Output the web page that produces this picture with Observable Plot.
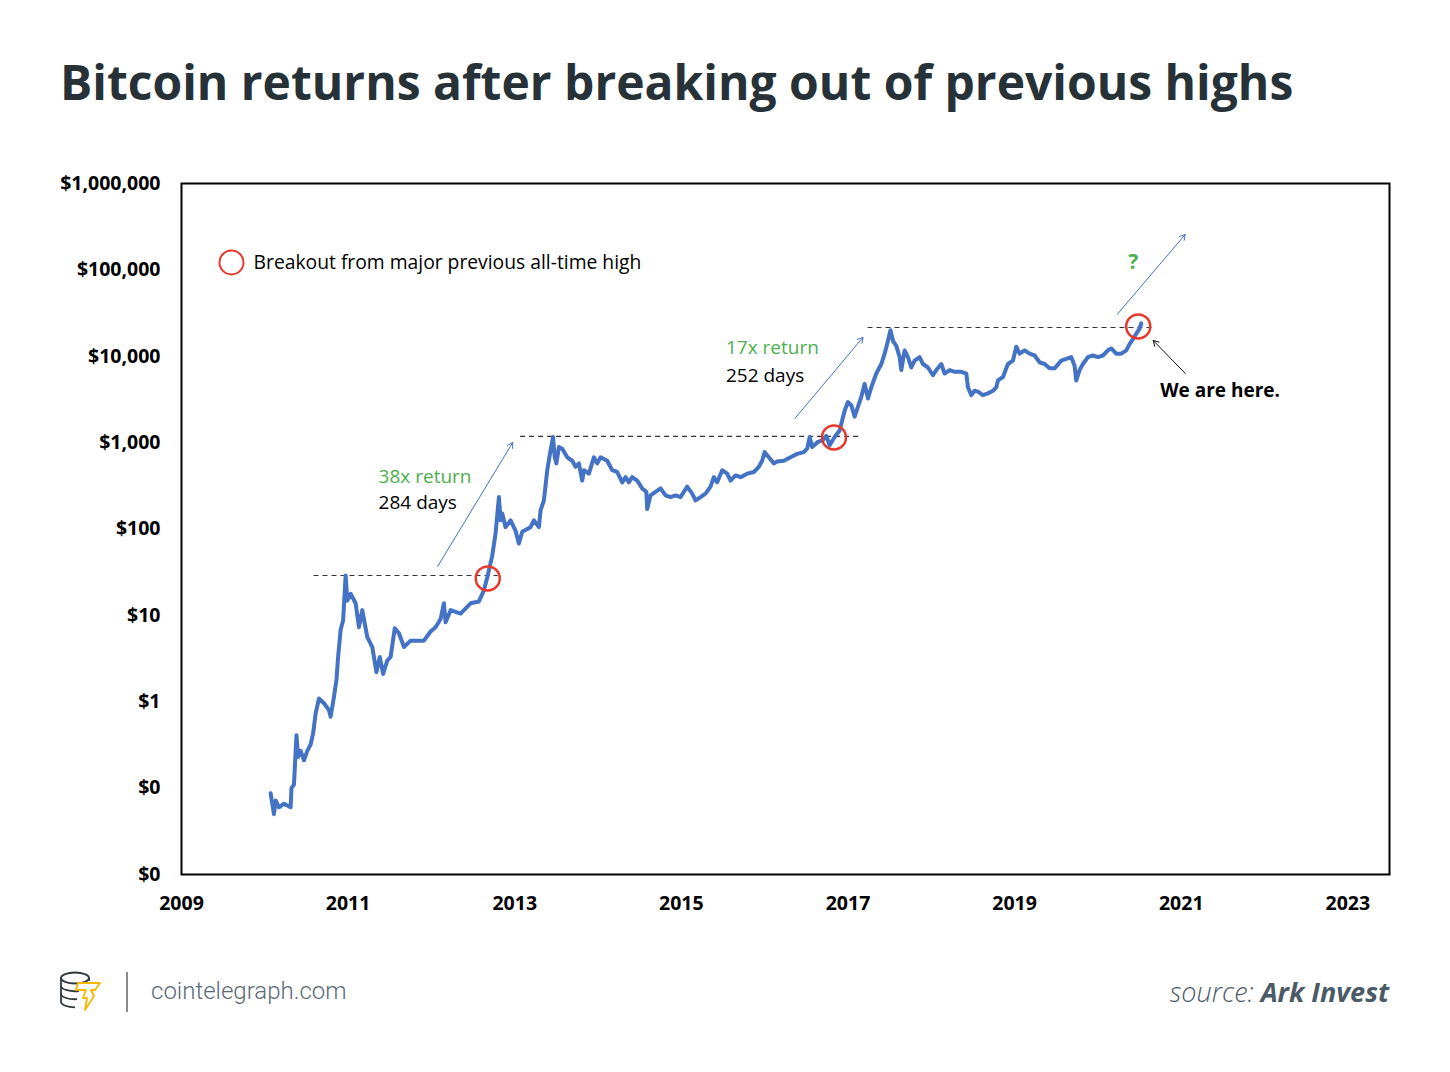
<!DOCTYPE html>
<html>
<head>
<meta charset="utf-8">
<script src="https://cdn.jsdelivr.net/npm/d3@7"></script>
<script src="https://cdn.jsdelivr.net/npm/@observablehq/plot@0.6"></script>
<style>
  html, body { margin: 0; padding: 0; background: #fff; }
  #page { position: relative; width: 1450px; height: 1072px; overflow: hidden; background: #fff; }
  #title { position: absolute; left: 60px; top: 58px; margin: 0; font-family: "Open Sans"; font-weight: 700; font-size: 48px; line-height: 48px; color: #263238; white-space: nowrap; }
  #chart { position: absolute; left: 0; top: 140px; }
  #logo { position: absolute; left: 58px; top: 970px; }
  #sep { position: absolute; left: 126px; top: 972px; width: 2px; height: 40px; background: #8a8a8a; }
  #site { position: absolute; left: 151px; top: 976px; font-family: Roboto; font-weight: 300; font-size: 24px; line-height: 30px; color: #5a6a76; }
  #source { position: absolute; right: 61px; top: 974px; font-family: "Open Sans"; font-style: italic; font-size: 27px; line-height: 36px; color: #4a5b67; }
  #source .l { font-weight: 300; }
  #source .b { font-weight: 700; }
</style>
</head>
<body>
<div id="page">
  <h1 id="title">Bitcoin returns after breaking out of previous highs</h1>
  <div id="chart"></div>
  <svg id="logo" width="50" height="44" viewBox="0 0 50 44">
    <g fill="none" stroke="#2f3a40" stroke-width="1.8">
      <ellipse cx="17" cy="8" rx="14" ry="5.5"/>
      <path d="M3 8 v8 a14 5.5 0 0 0 18 5"/>
      <path d="M3 16 v8 a14 5.5 0 0 0 16 5.2"/>
      <path d="M3 24 v8 a14 5.5 0 0 0 14 5.3"/>
      <path d="M31 8 v3"/>
    </g>
    <path d="M20 13 L42 13 L37 20 L33 20 L36 26 L27 40 L29 28 L25 28 L28 20 L18 20 Z" fill="#fff" stroke="#f5b700" stroke-width="1.8" stroke-linejoin="round"/>
  </svg>
  <div id="sep"></div>
  <div id="site">cointelegraph.com</div>
  <div id="source"><span class="l">source: </span><span class="b">Ark Invest</span></div>
</div>
<script>
// ---- Data ----
const years = [
  2010.07, 2010.11, 2010.13, 2010.17, 2010.23, 2010.31, 2010.32, 2010.35, 2010.38, 2010.40,
  2010.43, 2010.47, 2010.51, 2010.55, 2010.58, 2010.61, 2010.65, 2010.71, 2010.77, 2010.79,
  2010.83, 2010.86, 2010.88, 2010.91, 2010.94, 2010.97, 2010.99, 2011.03, 2011.09, 2011.13,
  2011.17, 2011.23, 2011.29, 2011.34, 2011.38, 2011.42, 2011.47, 2011.51, 2011.56, 2011.61,
  2011.67, 2011.75, 2011.91, 2011.99, 2012.05, 2012.11, 2012.15, 2012.17, 2012.23, 2012.35,
  2012.47, 2012.57, 2012.63, 2012.67, 2012.73, 2012.77, 2012.81, 2012.83, 2012.85, 2012.89,
  2012.95, 2013.01, 2013.05, 2013.09, 2013.19, 2013.23, 2013.29, 2013.31, 2013.35, 2013.39,
  2013.43, 2013.46, 2013.48, 2013.50, 2013.53, 2013.57, 2013.63, 2013.69, 2013.73, 2013.77,
  2013.81, 2013.83, 2013.89, 2013.95, 2013.99, 2014.03, 2014.11, 2014.17, 2014.23, 2014.29,
  2014.33, 2014.37, 2014.41, 2014.47, 2014.53, 2014.58, 2014.59, 2014.63, 2014.69, 2014.75,
  2014.81, 2014.87, 2014.93, 2014.99, 2015.07, 2015.13, 2015.17, 2015.23, 2015.29, 2015.35,
  2015.39, 2015.43, 2015.49, 2015.55, 2015.59, 2015.65, 2015.71, 2015.79, 2015.87, 2015.93,
  2015.97, 2016.00, 2016.05, 2016.11, 2016.15, 2016.23, 2016.31, 2016.39, 2016.47, 2016.51,
  2016.54, 2016.57, 2016.64, 2016.70, 2016.74, 2016.78, 2016.84, 2016.90, 2016.96, 2017.00,
  2017.04, 2017.08, 2017.16, 2017.20, 2017.24, 2017.28, 2017.34, 2017.40, 2017.44, 2017.48,
  2017.51, 2017.54, 2017.58, 2017.62, 2017.64, 2017.68, 2017.72, 2017.76, 2017.80, 2017.86,
  2017.90, 2017.96, 2018.02, 2018.06, 2018.12, 2018.16, 2018.22, 2018.28, 2018.36, 2018.42,
  2018.44, 2018.48, 2018.52, 2018.56, 2018.62, 2018.68, 2018.74, 2018.78, 2018.80, 2018.86,
  2018.92, 2018.98, 2019.02, 2019.06, 2019.12, 2019.18, 2019.24, 2019.30, 2019.36, 2019.42,
  2019.48, 2019.56, 2019.62, 2019.68, 2019.72, 2019.74, 2019.78, 2019.82, 2019.88, 2019.94,
  2020.00, 2020.06, 2020.12, 2020.16, 2020.22, 2020.28, 2020.34, 2020.38, 2020.42, 2020.46,
  2020.50, 2020.52
];
const prices = [
  0.087, 0.05, 0.072, 0.06, 0.066, 0.06, 0.10, 0.11, 0.41, 0.23,
  0.27, 0.21, 0.27, 0.32, 0.43, 0.73, 1.09, 0.96, 0.80, 0.67,
  1.14, 1.8, 3.3, 6.8, 8.7, 29, 14.8, 17.8, 13.8, 7.3,
  11.5, 5.6, 4.3, 2.2, 3.3, 2.1, 3.0, 3.3, 7.1, 6.2,
  4.3, 5.1, 5.1, 6.5, 7.3, 9.1, 13.8, 8.3, 11.5, 10.5,
  13.8, 14.5, 19.5, 27.5, 49, 89, 234, 126, 151, 105,
  126, 95, 68, 93, 105, 126, 105, 164, 214, 479,
  813, 1160, 676, 575, 891, 851, 676, 617, 525, 575,
  363, 479, 437, 676, 575, 676, 617, 479, 457, 347,
  398, 347, 398, 363, 295, 269, 170, 245, 269, 295,
  245, 234, 245, 234, 309, 257, 214, 234, 257, 309,
  398, 347, 479, 437, 363, 417, 398, 437, 457, 525,
  617, 776, 676, 575, 603, 617, 676, 741, 776, 851,
  1160, 891, 1020, 1070, 1200, 933, 1160, 1380, 2340, 2950,
  2690, 2000, 3390, 4790, 3240, 4370, 6310, 8130, 10700, 15100,
  20000, 15100, 13200, 9770, 6920, 11700, 9770, 7410, 8910, 9770,
  8130, 7410, 6030, 6920, 8130, 6310, 6920, 6610, 6610, 6310,
  4370, 3550, 3980, 3890, 3550, 3720, 3980, 4370, 5250, 5750,
  8130, 8910, 12900, 10700, 11700, 10700, 10200, 8510, 8130, 7240,
  7240, 8910, 9330, 9770, 7760, 5250, 6920, 8130, 9770, 10200,
  9770, 10200, 11700, 12300, 10700, 10700, 11700, 13800, 15800, 18200,
  20900, 24000
];

// previous all-time-high levels (dashed lines): level, start year, end year
const athLevel = [29, 1180, 21500];
const athFrom  = [2010.59, 2013.07, 2017.24];
const athTo    = [2012.80, 2017.16, 2020.66];

// breakout points (red circles)
const breakoutYear  = [2012.676, 2016.832, 2020.484];
const breakoutPrice = [26.8, 1148, 22130];

// return arrows (thin blue)
const arrowX1 = [2012.075, 2016.363, 2020.231];
const arrowY1 = [36.9, 1905, 30480];
const arrowX2 = [2012.976, 2017.180, 2021.048];
const arrowY2 = [1005, 16520, 257000];

// annotation labels
const returnLabels = ["38x return", "17x return"];
const dayLabels    = ["284 days", "252 days"];
const labelYear    = [2011.366, 2015.535];
const returnLabelPrice = [406, 12650];
const dayLabelPrice    = [198, 5995];

const legendLabel = "Breakout from major previous all-time high";
const legendYear = 2009.60, legendTextYear = 2009.865, legendPrice = 122000;
const questionYear = 2020.423, questionPrice = 122000;
const hereLabel = "We are here.";
const hereYear = 2020.748, herePrice = 4018;
const hereArrow = {x1: 2021.048, y1: 6325, x2: 2020.664, y2: 15240};

const xTicks = [2009, 2011, 2013, 2015, 2017, 2019, 2021, 2023];
const yTicks = [0.01, 0.1, 1, 10, 100, 1000, 10000, 100000, 1000000];

// ---- Tables built from the arrays ----
const series = years.map((y, i) => ({year: y, price: prices[i]}));
const ath = athLevel.map((v, i) => ({y: v, x1: athFrom[i], x2: athTo[i]}));
const breakouts = breakoutYear.map((x, i) => ({x, y: breakoutPrice[i]}));
const arrows = arrowX1.map((x, i) => ({x1: x, y1: arrowY1[i], x2: arrowX2[i], y2: arrowY2[i]}));
const retText = returnLabels.map((t, i) => ({t, x: labelYear[i], y: returnLabelPrice[i]}));
const dayText = dayLabels.map((t, i) => ({t, x: labelYear[i], y: dayLabelPrice[i]}));

const blue = "#4472c4", red = "#e8382b", green = "#4caf50";
const fmtY = v => v < 1 ? "$0" : "$" + d3.format(",")(v);

const chart = Plot.plot({
  width: 1450,
  height: 780,
  marginLeft: 181,
  marginRight: 61,
  marginTop: 43,
  marginBottom: 46,
  style: {fontFamily: "Open Sans", background: "white", overflow: "visible"},
  x: {domain: [2009, 2023.5]},
  y: {type: "log", domain: [0.01, 1000000]},
  marks: [
    Plot.axisX({ticks: xTicks, tickFormat: d => String(d), tickSize: 0, tickPadding: 22, fontSize: 19.5, fontWeight: 700, fill: "#000", label: null}),
    Plot.axisY({ticks: yTicks, tickFormat: fmtY, tickSize: 0, tickPadding: 21, fontSize: 19.5, fontWeight: 700, fill: "#000", label: null}),
    Plot.ruleY(ath, {y: "y", x1: "x1", x2: "x2", stroke: "#333", strokeWidth: 1.1, strokeDasharray: "5,4"}),
    Plot.arrow(arrows, {x1: "x1", y1: "y1", x2: "x2", y2: "y2", stroke: blue, strokeWidth: 1, headLength: 9}),
    Plot.arrow([hereArrow], {x1: "x1", y1: "y1", x2: "x2", y2: "y2", stroke: "#111", strokeWidth: 1, headLength: 9}),
    Plot.line(series, {x: "year", y: "price", stroke: blue, strokeWidth: 4, strokeLinejoin: "round"}),
    Plot.dot(breakouts, {x: "x", y: "y", r: 12, stroke: red, strokeWidth: 2.5, fill: "none"}),
    Plot.dot([{x: legendYear, y: legendPrice}], {x: "x", y: "y", r: 12, stroke: red, strokeWidth: 2, fill: "none"}),
    Plot.text([legendLabel], {x: legendTextYear, y: legendPrice, text: d => d, textAnchor: "start", fontSize: 19.3, fill: "#000"}),
    Plot.text(retText, {x: "x", y: "y", text: "t", textAnchor: "start", fontSize: 19, fill: green}),
    Plot.text(dayText, {x: "x", y: "y", text: "t", textAnchor: "start", fontSize: 19, fill: "#000"}),
    Plot.text(["?"], {x: questionYear, y: questionPrice, text: d => d, fontSize: 21, fontWeight: 700, fill: green}),
    Plot.text([hereLabel], {x: hereYear, y: herePrice, text: d => d, textAnchor: "start", fontSize: 19, fontWeight: 700, fill: "#000"}),
    Plot.frame({stroke: "#000", strokeWidth: 2})
  ]
});
document.getElementById("chart").appendChild(chart);
</script>
</body>
</html>
